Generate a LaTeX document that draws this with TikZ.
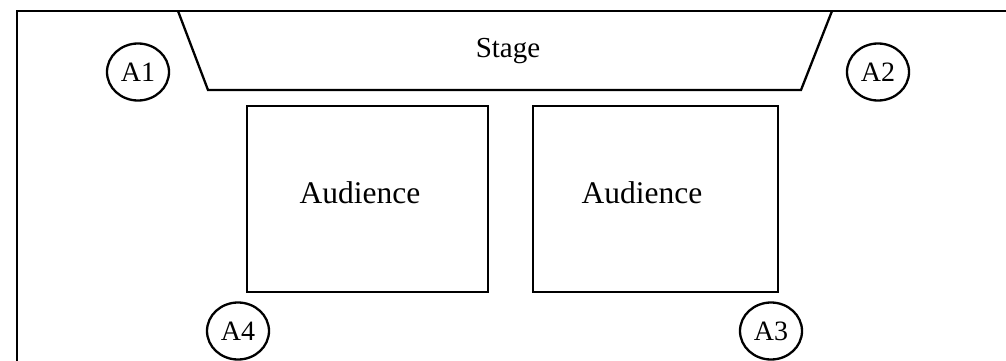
\documentclass[tikz,border=0pt]{standalone}
\usepackage{fontspec}
\setmainfont{Liberation Serif}
\usetikzlibrary{shapes.geometric}
\tikzset{
  wall/.style={draw,line width=2.8pt},
  stg/.style={draw,line width=2.3pt,line join=miter},
  seatblk/.style={draw,rectangle,line width=2.8pt,inner sep=0pt},
  exitnd/.style={draw,ellipse,line width=2.3pt,minimum width=62pt,minimum height=57pt,inner sep=0pt,font=\fontsize{28}{32}\selectfont},
  lbl/.style={anchor=base,inner sep=0pt,font=\fontsize{29}{34}\selectfont},
  seatlbl/.style={lbl,font=\fontsize{31.5}{36}\selectfont}
}
\begin{document}
\begin{tikzpicture}[x=1pt,y=-1pt]
  \useasboundingbox (0,0) rectangle (1006,361);
  \clip (0,0) rectangle (1006,361);
  % hall
  \draw[wall] (17,11) rectangle (1030,400);
  % stage
  \draw[stg] (178,11) -- (208,90) -- (801,90) -- (832,11);
  \node[lbl] (stage) at (508,57) {Stage};
  % seats
  \node[seatblk, minimum width=241pt, minimum height=186pt] (audl) at (367.5,199) {};
  \node[seatblk, minimum width=245pt, minimum height=186pt] (audr) at (655.5,199) {};
  \node[seatlbl] (audltxt) at (360,203) {Audience};
  \node[seatlbl] (audrtxt) at (642,203) {Audience};
  % exits
  \node[exitnd] (a1) at (138,72) {A1};
  \node[exitnd] (a2) at (878,72) {A2};
  \node[exitnd] (a3) at (771,331) {A3};
  \node[exitnd] (a4) at (238,331) {A4};
\end{tikzpicture}
\end{document}
